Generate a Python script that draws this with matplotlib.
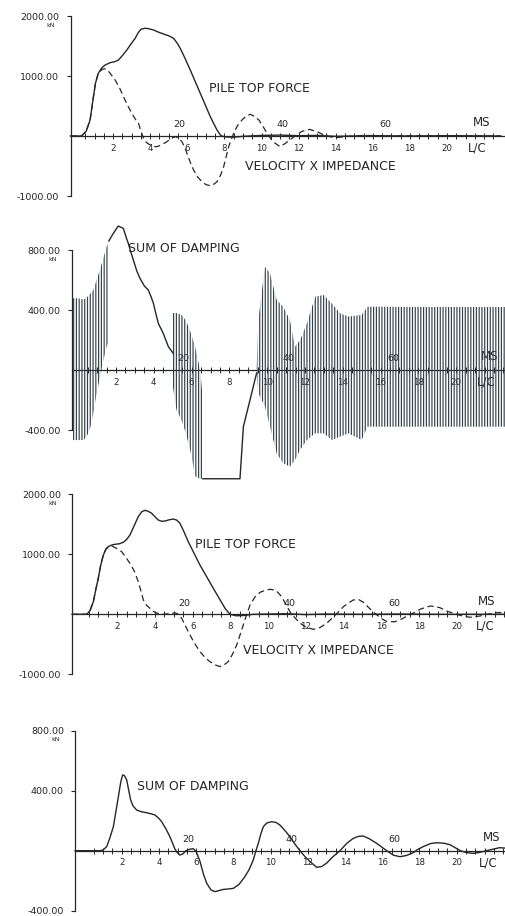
import matplotlib
matplotlib.use("Agg")
import matplotlib.pyplot as plt

# ---- values (x in L/C, force in kN) ----

# record 1: pile top force / velocity x impedance
force1_lc = [-0.3, 0.3, 0.55, 0.76, 0.94, 1.05, 1.2, 1.4, 1.57, 1.84, 2.1, 2.29, 2.5, 2.74,
             3.0, 3.19, 3.35, 3.5, 3.7, 3.9, 4.18, 4.45, 4.72, 5.0, 5.26, 5.45, 5.62, 5.9,
             6.16, 6.7, 7.24, 7.6, 7.8, 8.0, 8.5, 9.0, 10.0, 11.0, 12.0, 13.0, 14.0, 16.0,
             18.0, 20.0, 22.9]
force1_kn = [0, 0, 80, 267, 655, 880, 1045, 1140, 1183, 1222, 1240, 1267, 1340, 1433,
             1550, 1628, 1720, 1778, 1795, 1790, 1767, 1730, 1700, 1670, 1628, 1550, 1461, 1280,
             1100, 711, 322, 100, 10, -15, -20, -5, 10, 15, 5, 10, -5, 5,
             0, 5, 0]
vz1_lc = [-0.3, 0.3, 0.55, 0.76, 0.94, 1.05, 1.2, 1.4, 1.55, 1.7, 1.9, 2.11, 2.35, 2.56,
          2.8, 3.01, 3.2, 3.37, 3.5, 3.64, 3.8, 4.0, 4.2, 4.36, 4.6, 4.9, 5.15, 5.35,
          5.55, 5.71, 5.85, 5.98, 6.15, 6.34, 6.55, 6.79, 7.0, 7.24, 7.45, 7.6, 7.8, 7.96,
          8.1, 8.23, 8.5, 8.7, 8.95, 9.2, 9.4, 9.6, 9.86, 10.1, 10.3, 10.6, 11.0, 11.3,
          11.8, 12.2, 12.6, 13.0, 13.5, 14.0, 14.5, 15.5, 17.0, 19.0, 21.0, 22.9]
vz1_kn = [0, 0, 80, 267, 655, 880, 1045, 1110, 1120, 1100, 1020, 933, 800, 655,
          500, 378, 280, 211, 80, -39, -110, -150, -175, -178, -150, -95, -40, -11,
          -40, -95, -180, -289, -430, -567, -680, -761, -810, -828, -800, -761, -650, -511,
          -340, -178, 44, 170, 267, 340, 361, 330, 267, 150, 44, -90, -178, -120,
          0, 80, 110, 70, 0, -30, -10, 10, 0, 5, 0, 0]

# record 1: sum of damping, smooth stretches
damp1a_lc = [1.62, 1.86, 2.12, 2.39, 2.55, 2.65, 2.8, 2.92, 3.1, 3.27, 3.5, 3.71, 3.85,
             3.98, 4.1, 4.24, 4.5, 4.77, 5.03]
damp1a_kn = [860, 911, 960, 944, 880, 844, 780, 733, 660, 611, 560, 533, 490,
             444, 380, 311, 244, 156, 111]
damp1b_lc = [6.6, 8.56, 8.74, 9.09, 9.44]
damp1b_kn = [-725, -725, -378, -200, -20]
# record 1: sum of damping, oscillating stretches (upper / lower envelope)
osc1_lc = [-0.3, 0.0, 0.3, 0.5, 0.65, 0.8, 0.97, 1.15, 1.32, 1.5, 1.62]
osc1_hi = [478, 478, 470, 489, 510, 533, 600, 667, 744, 820, 860]
osc1_lo = [-467, -467, -467, -430, -380, -289, -160, -50, 60, 150, 200]
osc2_lc = [5.0, 5.2, 5.45, 5.7, 5.95, 6.2, 6.45, 6.6]
osc2_hi = [380, 380, 370, 330, 250, 150, 0, -200]
osc2_lo = [-100, -267, -330, -422, -550, -711, -725, -725]
osc3_lc = [9.44, 9.53, 9.88, 10.15, 10.5, 10.85, 11.2, 11.47, 11.74, 12.1, 12.54, 12.98,
           13.42, 13.86, 14.3, 15.0, 15.3, 16.0, 18.0, 20.0, 22.9]
osc3_hi = [0, 333, 689, 644, 467, 422, 333, 156, 200, 311, 489, 500,
           444, 378, 356, 367, 422, 422, 420, 420, 420]
osc3_lo = [-20, -155, -244, -378, -556, -622, -644, -600, -533, -467, -422, -422,
           -467, -444, -422, -467, -378, -378, -378, -378, -378]

# record 2: pile top force / velocity x impedance
force2_lc = [-0.4, 0.38, 0.55, 0.73, 0.85, 0.99, 1.12, 1.26, 1.4, 1.52, 1.7, 1.88, 2.1,
             2.32, 2.5, 2.67, 2.9, 3.11, 3.3, 3.47, 3.65, 3.82, 4.0, 4.17, 4.35, 4.53,
             4.75, 4.97, 5.15, 5.32, 5.5, 5.76, 6.38, 7.09, 7.71, 7.97, 8.3, 8.7, 9.2,
             10.0, 11.0, 12.0, 13.0, 15.0, 17.0, 19.0, 22.9]
force2_kn = [0, 0, 60, 211, 400, 600, 820, 988, 1090, 1128, 1155, 1167, 1175,
             1200, 1250, 1322, 1480, 1628, 1710, 1733, 1715, 1683, 1625, 1572, 1550, 1555,
             1575, 1588, 1570, 1517, 1400, 1211, 822, 433, 100, 0, -25, -20, 0,
             5, 10, -5, 5, 0, 5, 0, 0]
vz2_lc = [-0.4, 0.38, 0.55, 0.73, 0.85, 0.99, 1.12, 1.26, 1.4, 1.55, 1.7, 1.95, 2.23,
          2.45, 2.67, 2.9, 3.11, 3.25, 3.38, 3.55, 3.73, 3.9, 4.1, 4.4, 4.8, 5.05, 5.25,
          5.41, 5.58, 5.76, 6.05, 6.38, 6.65, 6.91, 7.2, 7.44, 7.65, 7.88, 8.1, 8.33,
          8.5, 8.68, 8.85, 9.04, 9.3, 9.57, 9.85, 10.1, 10.4, 10.7, 11.0, 11.2, 11.45,
          11.7, 12.0, 12.4, 12.75, 13.1, 13.6, 14.0, 14.5, 14.8, 15.05, 15.3, 15.6, 16.0,
          16.3, 16.7, 16.99, 17.3, 17.7, 18.1, 18.6, 19.1, 19.5, 19.8, 20.2, 20.7, 21.2,
          21.6, 22.2, 22.9]
vz2_kn = [0, 0, 60, 211, 400, 600, 820, 988, 1090, 1120, 1140, 1100, 1044,
          950, 850, 720, 544, 390, 239, 150, 100, 50, 20, 0, 10, 25, 0,
          -67, -170, -289, -460, -622, -720, -789, -845, -872, -845, -789, -670, -511,
          -350, -178, -10, 156, 290, 367, 400, 417, 400, 300, 130, 20, -70,
          -150, -215, -250, -220, -150, 0, 130, 238, 245, 200, 120, 31, -70,
          -122, -125, -94, -40, 20, 90, 139, 111, 50, 20, -20, -50, -30,
          0, 30, 10]

# record 2: sum of damping
damp2_lc = [-0.5, 0.83, 1.0, 1.19, 1.35, 1.55, 1.7, 1.82, 1.95, 2.05, 2.15, 2.27, 2.38,
            2.48, 2.6, 2.8, 3.05, 3.34, 3.6, 3.79, 4.0, 4.15, 4.4, 4.59, 4.75, 4.86, 5.0,
            5.13, 5.3, 5.45, 5.65, 5.85, 6.0, 6.21, 6.4, 6.57, 6.8, 7.01, 7.25, 7.46, 7.75,
            8.0, 8.3, 8.62, 8.85, 9.07, 9.2, 9.34, 9.47, 9.61, 9.8, 10.06, 10.3, 10.5,
            10.8, 11.04, 11.3, 11.58, 11.85, 12.12, 12.48, 12.75, 13.0, 13.35, 13.73, 14.1,
            14.44, 14.7, 14.98, 15.3, 15.7, 16.24, 16.6, 16.95, 17.3, 17.67, 17.9, 18.2,
            18.6, 18.92, 19.3, 19.64, 20.2, 20.5, 20.89, 21.2, 21.6, 22.3, 22.9]
damp2_kn = [0, 0, 5, 27, 80, 160, 270, 360, 460, 505, 500, 471, 400,
            338, 300, 271, 260, 253, 245, 238, 215, 193, 140, 93, 45, 11, -15,
            -29, -20, 0, 10, 13, -5, -73, -160, -218, -262, -273, -265, -258, -255,
            -251, -225, -173, -125, -62, -5, 49, 110, 160, 185, 193, 188, 171,
            130, 93, 45, 0, -40, -73, -111, -105, -84, -40, 0, 50,
            82, 95, 98, 80, 49, 0, -30, -40, -32, -13, 8, 27,
            48, 53, 50, 40, 0, -12, -18, -12, 0, 20, 15]

lc_ticks = [2, 4, 6, 8, 10, 12, 14, 16, 18, 20]
lc_minor = [i * 0.5 for i in range(1, 46)]
ms_ticks = [20, 40, 60]
MS_PER_LC = 3.6

W, H = 505, 916
INK = "#262626"
HATCH_INK = "#34404a"

plt.rcParams["font.family"] = "DejaVu Sans"
plt.rcParams["hatch.linewidth"] = 0.85

fig = plt.figure(figsize=(W / 100, H / 100), dpi=100)
fig.patch.set_facecolor("white")


def make_panel(top, bottom, x0, ppl, y0, ppv, axis_px, yticks, ms_lc, lc_lc):
    ax = fig.add_axes([0, 1 - bottom / H, 1, (bottom - top) / H])
    ax.set_xlim(-x0 / ppl, (W - x0) / ppl)
    ax.set_ylim((y0 - bottom) / ppv, (y0 - top) / ppv)
    ax.patch.set_visible(False)
    ax.spines[["top", "right"]].set_visible(False)
    axis_lc = (axis_px - x0) / ppl
    ax.spines["left"].set_position(("data", axis_lc))
    ax.spines["left"].set_bounds(min(yticks), max(yticks))
    ax.spines["bottom"].set_position(("data", 0))
    ax.spines["bottom"].set_bounds(axis_lc, ax.get_xlim()[1])
    for s in ("left", "bottom"):
        ax.spines[s].set_color(INK)
        ax.spines[s].set_linewidth(0.9)

    ax.set_yticks(yticks, [f"{v:.2f}" for v in yticks])
    ax.tick_params(axis="y", direction="out", length=3, width=0.8, pad=5,
                   labelsize=6.8, colors=INK)
    ax.set_xticks(lc_ticks, [str(v) for v in lc_ticks])
    ax.set_xticks(lc_minor, minor=True)
    ax.tick_params(axis="x", which="both", direction="inout", length=4, width=0.7,
                   pad=3.5, labelsize=6.2, colors=INK)

    ax.annotate("kN", xy=(axis_lc, max(yticks)), xytext=(-11, -6.5),
                textcoords="offset points", ha="right", va="center",
                fontsize=4.5, color=INK)
    for ms in ms_ticks:
        ax.annotate(str(ms), xy=(ms / MS_PER_LC, 0), xytext=(0, 8),
                    textcoords="offset points", ha="center", va="center",
                    fontsize=6.8, color=INK)
    ax.annotate("MS", xy=(ms_lc, 0), xytext=(0, 9.5), textcoords="offset points",
                ha="left", va="center", fontsize=8.5, color=INK)
    ax.annotate("L/C", xy=(lc_lc, 0), xytext=(0, -8.5), textcoords="offset points",
                ha="left", va="center", fontsize=8.5, color=INK)
    return ax


def label(x_px, y_px, text):
    fig.text(x_px / W, 1 - y_px / H, text, ha="left", va="center",
             fontsize=9, color=INK)


solid = dict(color=INK, lw=1.0, zorder=3)
dashed = dict(color=INK, lw=0.9, ls=(0, (5, 3)), zorder=3)

# panel 1
ax1 = make_panel(0, 215, 76, 18.55, 136, 0.06, 70.5, [-1000, 1000, 2000], 21.4, 21.1)
ax1.plot(force1_lc, force1_kn, **solid)
ax1.plot(vz1_lc, vz1_kn, **dashed)
label(209, 89, "PILE TOP FORCE")
label(245, 166, "VELOCITY X IMPEDANCE")

# panel 2
ax2 = make_panel(215, 485, 78.2, 18.9, 370, 0.15, 71.7, [-400, 400, 800], 21.3, 21.1)
for xs, lo, hi in ((osc1_lc, osc1_lo, osc1_hi), (osc2_lc, osc2_lo, osc2_hi),
                   (osc3_lc, osc3_lo, osc3_hi)):
    ax2.fill_between(xs, lo, hi, facecolor="none", edgecolor=HATCH_INK,
                     hatch="||||||", linewidth=0, zorder=3)
ax2.plot(damp1a_lc, damp1a_kn, **solid)
ax2.plot(damp1b_lc, damp1b_kn, **solid)
label(128, 249, "SUM OF DAMPING")

# panel 3
ax3 = make_panel(485, 700, 79.6, 18.86, 614.3, 0.06, 72, [-1000, 1000, 2000], 21.1, 21.0)
ax3.plot(force2_lc, force2_kn, **solid)
ax3.plot(vz2_lc, vz2_kn, **dashed)
label(195, 545, "PILE TOP FORCE")
label(243, 650, "VELOCITY X IMPEDANCE")

# panel 4
ax4 = make_panel(700, 916, 84.5, 18.61, 850.7, 0.15, 75, [-400, 400, 800], 21.4, 21.2)
ax4.plot(damp2_lc, damp2_kn, **solid)
label(137, 787, "SUM OF DAMPING")

fig.savefig("out.png", dpi=100, facecolor="white")
